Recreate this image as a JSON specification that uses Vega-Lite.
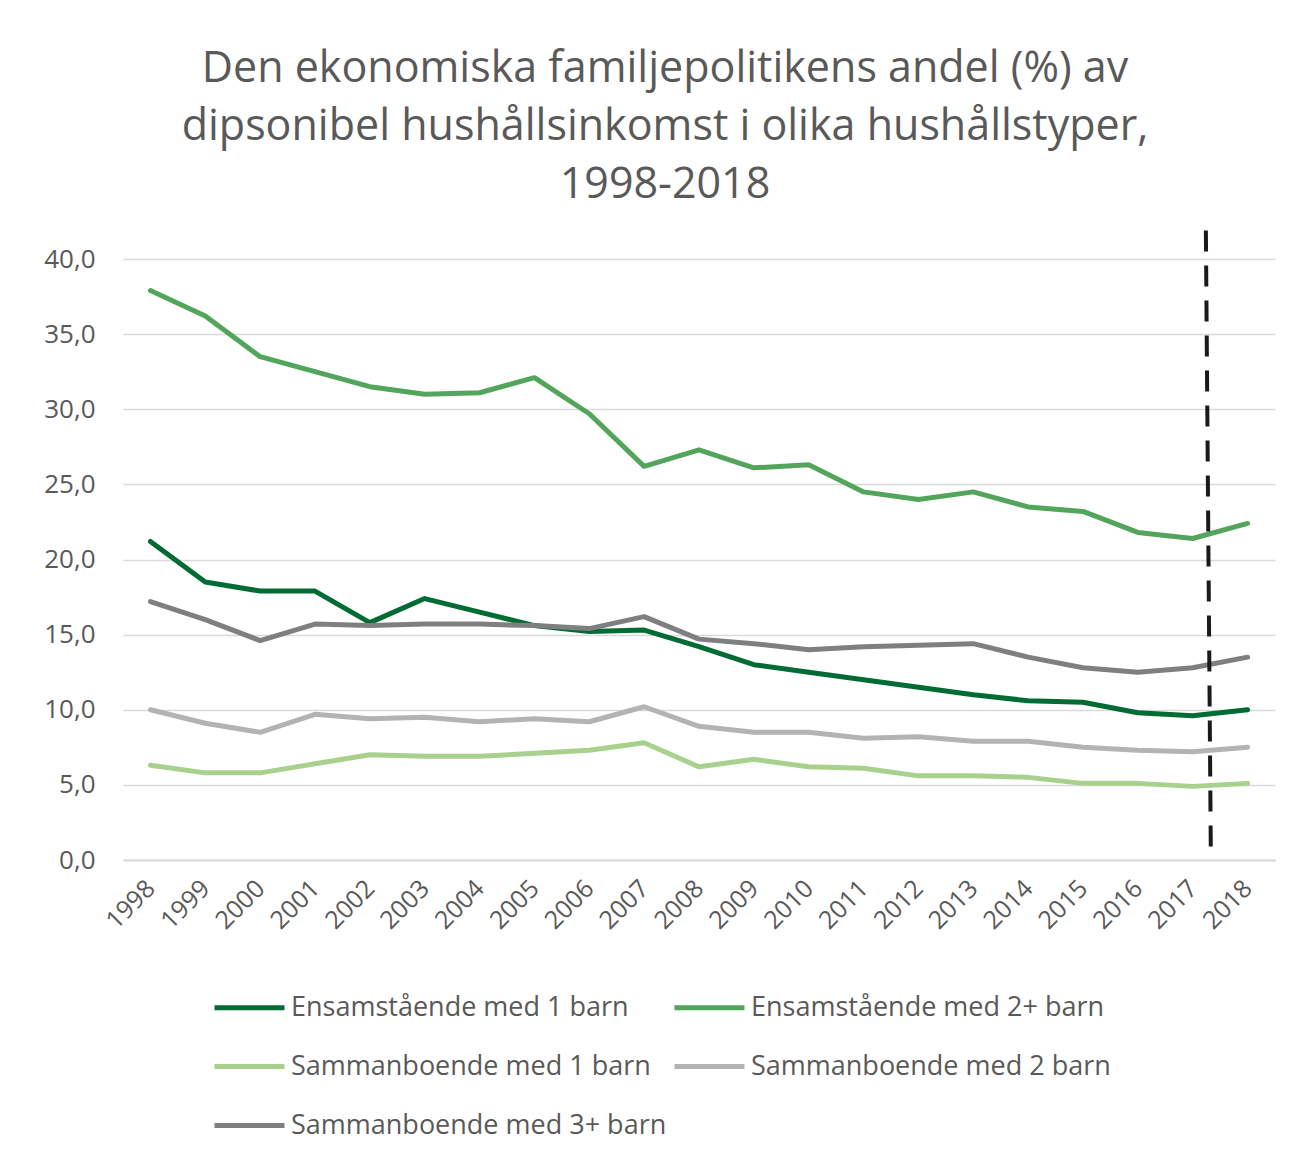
{
  "$schema": "https://vega.github.io/schema/vega-lite/v6.json",
  "width": 1152,
  "height": 601,
  "autosize": {"type": "none"},
  "padding": {"left": 123, "top": 259, "right": 17, "bottom": 301},
  "background": "white",
  "title": {
    "text": ["Den ekonomiska familjepolitikens andel (%) av", "dipsonibel hushållsinkomst i olika hushållstyper,", "1998-2018"],
    "font": "Open Sans",
    "fontSize": 43,
    "fontWeight": "normal",
    "color": "#595959",
    "lineHeight": 58,
    "anchor": "middle",
    "dx": -34,
    "offset": 21
  },
  "config": {
    "view": {"stroke": null},
    "font": "Open Sans"
  },
  "datasets": {
    "series": [
      {"year": 1998, "typ": "Ensamstående med 1 barn", "andel": 21.2},
      {"year": 1999, "typ": "Ensamstående med 1 barn", "andel": 18.5},
      {"year": 2000, "typ": "Ensamstående med 1 barn", "andel": 17.9},
      {"year": 2001, "typ": "Ensamstående med 1 barn", "andel": 17.9},
      {"year": 2002, "typ": "Ensamstående med 1 barn", "andel": 15.8},
      {"year": 2003, "typ": "Ensamstående med 1 barn", "andel": 17.4},
      {"year": 2004, "typ": "Ensamstående med 1 barn", "andel": 16.5},
      {"year": 2005, "typ": "Ensamstående med 1 barn", "andel": 15.6},
      {"year": 2006, "typ": "Ensamstående med 1 barn", "andel": 15.2},
      {"year": 2007, "typ": "Ensamstående med 1 barn", "andel": 15.3},
      {"year": 2008, "typ": "Ensamstående med 1 barn", "andel": 14.2},
      {"year": 2009, "typ": "Ensamstående med 1 barn", "andel": 13.0},
      {"year": 2010, "typ": "Ensamstående med 1 barn", "andel": 12.5},
      {"year": 2011, "typ": "Ensamstående med 1 barn", "andel": 12.0},
      {"year": 2012, "typ": "Ensamstående med 1 barn", "andel": 11.5},
      {"year": 2013, "typ": "Ensamstående med 1 barn", "andel": 11.0},
      {"year": 2014, "typ": "Ensamstående med 1 barn", "andel": 10.6},
      {"year": 2015, "typ": "Ensamstående med 1 barn", "andel": 10.5},
      {"year": 2016, "typ": "Ensamstående med 1 barn", "andel": 9.8},
      {"year": 2017, "typ": "Ensamstående med 1 barn", "andel": 9.6},
      {"year": 2018, "typ": "Ensamstående med 1 barn", "andel": 10.0},
      {"year": 1998, "typ": "Ensamstående med 2+ barn", "andel": 37.9},
      {"year": 1999, "typ": "Ensamstående med 2+ barn", "andel": 36.2},
      {"year": 2000, "typ": "Ensamstående med 2+ barn", "andel": 33.5},
      {"year": 2001, "typ": "Ensamstående med 2+ barn", "andel": 32.5},
      {"year": 2002, "typ": "Ensamstående med 2+ barn", "andel": 31.5},
      {"year": 2003, "typ": "Ensamstående med 2+ barn", "andel": 31.0},
      {"year": 2004, "typ": "Ensamstående med 2+ barn", "andel": 31.1},
      {"year": 2005, "typ": "Ensamstående med 2+ barn", "andel": 32.1},
      {"year": 2006, "typ": "Ensamstående med 2+ barn", "andel": 29.7},
      {"year": 2007, "typ": "Ensamstående med 2+ barn", "andel": 26.2},
      {"year": 2008, "typ": "Ensamstående med 2+ barn", "andel": 27.3},
      {"year": 2009, "typ": "Ensamstående med 2+ barn", "andel": 26.1},
      {"year": 2010, "typ": "Ensamstående med 2+ barn", "andel": 26.3},
      {"year": 2011, "typ": "Ensamstående med 2+ barn", "andel": 24.5},
      {"year": 2012, "typ": "Ensamstående med 2+ barn", "andel": 24.0},
      {"year": 2013, "typ": "Ensamstående med 2+ barn", "andel": 24.5},
      {"year": 2014, "typ": "Ensamstående med 2+ barn", "andel": 23.5},
      {"year": 2015, "typ": "Ensamstående med 2+ barn", "andel": 23.2},
      {"year": 2016, "typ": "Ensamstående med 2+ barn", "andel": 21.8},
      {"year": 2017, "typ": "Ensamstående med 2+ barn", "andel": 21.4},
      {"year": 2018, "typ": "Ensamstående med 2+ barn", "andel": 22.4},
      {"year": 1998, "typ": "Sammanboende med 1 barn", "andel": 6.3},
      {"year": 1999, "typ": "Sammanboende med 1 barn", "andel": 5.8},
      {"year": 2000, "typ": "Sammanboende med 1 barn", "andel": 5.8},
      {"year": 2001, "typ": "Sammanboende med 1 barn", "andel": 6.4},
      {"year": 2002, "typ": "Sammanboende med 1 barn", "andel": 7.0},
      {"year": 2003, "typ": "Sammanboende med 1 barn", "andel": 6.9},
      {"year": 2004, "typ": "Sammanboende med 1 barn", "andel": 6.9},
      {"year": 2005, "typ": "Sammanboende med 1 barn", "andel": 7.1},
      {"year": 2006, "typ": "Sammanboende med 1 barn", "andel": 7.3},
      {"year": 2007, "typ": "Sammanboende med 1 barn", "andel": 7.8},
      {"year": 2008, "typ": "Sammanboende med 1 barn", "andel": 6.2},
      {"year": 2009, "typ": "Sammanboende med 1 barn", "andel": 6.7},
      {"year": 2010, "typ": "Sammanboende med 1 barn", "andel": 6.2},
      {"year": 2011, "typ": "Sammanboende med 1 barn", "andel": 6.1},
      {"year": 2012, "typ": "Sammanboende med 1 barn", "andel": 5.6},
      {"year": 2013, "typ": "Sammanboende med 1 barn", "andel": 5.6},
      {"year": 2014, "typ": "Sammanboende med 1 barn", "andel": 5.5},
      {"year": 2015, "typ": "Sammanboende med 1 barn", "andel": 5.1},
      {"year": 2016, "typ": "Sammanboende med 1 barn", "andel": 5.1},
      {"year": 2017, "typ": "Sammanboende med 1 barn", "andel": 4.9},
      {"year": 2018, "typ": "Sammanboende med 1 barn", "andel": 5.1},
      {"year": 1998, "typ": "Sammanboende med 2 barn", "andel": 10.0},
      {"year": 1999, "typ": "Sammanboende med 2 barn", "andel": 9.1},
      {"year": 2000, "typ": "Sammanboende med 2 barn", "andel": 8.5},
      {"year": 2001, "typ": "Sammanboende med 2 barn", "andel": 9.7},
      {"year": 2002, "typ": "Sammanboende med 2 barn", "andel": 9.4},
      {"year": 2003, "typ": "Sammanboende med 2 barn", "andel": 9.5},
      {"year": 2004, "typ": "Sammanboende med 2 barn", "andel": 9.2},
      {"year": 2005, "typ": "Sammanboende med 2 barn", "andel": 9.4},
      {"year": 2006, "typ": "Sammanboende med 2 barn", "andel": 9.2},
      {"year": 2007, "typ": "Sammanboende med 2 barn", "andel": 10.2},
      {"year": 2008, "typ": "Sammanboende med 2 barn", "andel": 8.9},
      {"year": 2009, "typ": "Sammanboende med 2 barn", "andel": 8.5},
      {"year": 2010, "typ": "Sammanboende med 2 barn", "andel": 8.5},
      {"year": 2011, "typ": "Sammanboende med 2 barn", "andel": 8.1},
      {"year": 2012, "typ": "Sammanboende med 2 barn", "andel": 8.2},
      {"year": 2013, "typ": "Sammanboende med 2 barn", "andel": 7.9},
      {"year": 2014, "typ": "Sammanboende med 2 barn", "andel": 7.9},
      {"year": 2015, "typ": "Sammanboende med 2 barn", "andel": 7.5},
      {"year": 2016, "typ": "Sammanboende med 2 barn", "andel": 7.3},
      {"year": 2017, "typ": "Sammanboende med 2 barn", "andel": 7.2},
      {"year": 2018, "typ": "Sammanboende med 2 barn", "andel": 7.5},
      {"year": 1998, "typ": "Sammanboende med 3+ barn", "andel": 17.2},
      {"year": 1999, "typ": "Sammanboende med 3+ barn", "andel": 16.0},
      {"year": 2000, "typ": "Sammanboende med 3+ barn", "andel": 14.6},
      {"year": 2001, "typ": "Sammanboende med 3+ barn", "andel": 15.7},
      {"year": 2002, "typ": "Sammanboende med 3+ barn", "andel": 15.6},
      {"year": 2003, "typ": "Sammanboende med 3+ barn", "andel": 15.7},
      {"year": 2004, "typ": "Sammanboende med 3+ barn", "andel": 15.7},
      {"year": 2005, "typ": "Sammanboende med 3+ barn", "andel": 15.6},
      {"year": 2006, "typ": "Sammanboende med 3+ barn", "andel": 15.4},
      {"year": 2007, "typ": "Sammanboende med 3+ barn", "andel": 16.2},
      {"year": 2008, "typ": "Sammanboende med 3+ barn", "andel": 14.7},
      {"year": 2009, "typ": "Sammanboende med 3+ barn", "andel": 14.4},
      {"year": 2010, "typ": "Sammanboende med 3+ barn", "andel": 14.0},
      {"year": 2011, "typ": "Sammanboende med 3+ barn", "andel": 14.2},
      {"year": 2012, "typ": "Sammanboende med 3+ barn", "andel": 14.3},
      {"year": 2013, "typ": "Sammanboende med 3+ barn", "andel": 14.4},
      {"year": 2014, "typ": "Sammanboende med 3+ barn", "andel": 13.5},
      {"year": 2015, "typ": "Sammanboende med 3+ barn", "andel": 12.8},
      {"year": 2016, "typ": "Sammanboende med 3+ barn", "andel": 12.5},
      {"year": 2017, "typ": "Sammanboende med 3+ barn", "andel": 12.8},
      {"year": 2018, "typ": "Sammanboende med 3+ barn", "andel": 13.5}
    ],
    "marker": [
      {"x_top": 2017.24, "x_bottom": 2017.33, "y_top": 41.9, "y_bottom": 0.6}
    ]
  },
  "layer": [
    {
      "data": {"name": "series"},
      "mark": {"type": "line", "strokeWidth": 5, "strokeJoin": "round", "strokeCap": "round"},
      "encoding": {
        "x": {
          "field": "year",
          "type": "quantitative",
          "scale": {"domain": [1997.5, 2018.5], "nice": false, "zero": false},
          "axis": {
            "title": null,
            "values": [1998, 1999, 2000, 2001, 2002, 2003, 2004, 2005, 2006, 2007, 2008, 2009, 2010, 2011, 2012, 2013, 2014, 2015, 2016, 2017, 2018],
            "format": "d",
            "labelAngle": -45,
            "labelAlign": "right",
            "labelBaseline": "middle",
            "labelFontSize": 25,
            "labelColor": "#595959",
            "labelFont": "Open Sans",
            "labelPadding": 24,
            "labelDx": 10,
            "grid": false,
            "ticks": false,
            "domain": true,
            "domainColor": "#d9d9d9",
            "domainWidth": 2,
            "labelOverlap": false
          }
        },
        "y": {
          "field": "andel",
          "type": "quantitative",
          "scale": {"domain": [0, 40], "nice": false},
          "axis": {
            "title": null,
            "values": [0, 5, 10, 15, 20, 25, 30, 35, 40],
            "labelExpr": "replace(format(datum.value, '.1f'), '.', ',')",
            "labelFontSize": 26,
            "labelColor": "#595959",
            "labelFont": "Open Sans",
            "labelPadding": 28,
            "ticks": false,
            "domain": false,
            "grid": true,
            "gridColor": "#d9d9d9",
            "gridWidth": 1.5
          }
        },
        "color": {
          "field": "typ",
          "type": "nominal",
          "scale": {
            "domain": ["Ensamstående med 1 barn", "Ensamstående med 2+ barn", "Sammanboende med 1 barn", "Sammanboende med 2 barn", "Sammanboende med 3+ barn"],
            "range": ["#006b33", "#52a55b", "#a9d18e", "#b3b3b3", "#7f7f7f"]
          },
          "legend": {
            "title": null,
            "orient": "none",
            "legendX": 89,
            "legendY": 711,
            "direction": "horizontal",
            "columns": 2,
            "symbolType": "stroke",
            "symbolStrokeWidth": 5,
            "symbolSize": 4900,
            "labelFontSize": 27,
            "labelColor": "#595959",
            "labelFont": "Open Sans",
            "labelOffset": 4,
            "columnPadding": -3,
            "rowPadding": 8,
            "labelLimit": 500
          }
        }
      }
    },
    {
      "data": {"name": "marker"},
      "mark": {"type": "rule", "color": "#1a1a1a", "strokeWidth": 4, "strokeDash": [21, 14], "clip": false},
      "encoding": {
        "x": {"field": "x_top", "type": "quantitative"},
        "x2": {"field": "x_bottom"},
        "y": {"field": "y_top", "type": "quantitative"},
        "y2": {"field": "y_bottom"}
      }
    }
  ]
}
